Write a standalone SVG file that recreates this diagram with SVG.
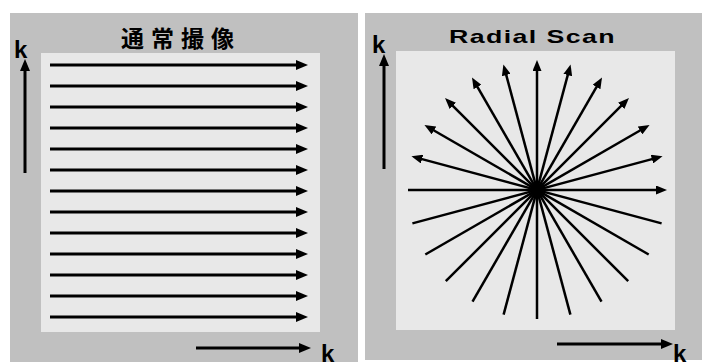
<svg xmlns="http://www.w3.org/2000/svg" width="702" height="362" viewBox="0 0 702 362">
  <style>
    .bg { fill: #c0c0c0; }
    .inner { fill: #e8e8e8; }
    .arr { stroke: #000; stroke-width: 3; fill: none; marker-end: url(#ah); }
    .ray { stroke: #000; stroke-width: 2.5; fill: none; marker-end: url(#ahs); }
    .axis { stroke: #000; stroke-width: 3; fill: none; marker-end: url(#ah); }
    .k { font-family: "Liberation Sans", Arial, sans-serif; font-weight: bold; font-size: 24px; fill: #000; }
    .title-jp { font-family: "Noto Sans CJK JP", "Noto Sans CJK SC", sans-serif; font-weight: bold; font-size: 23px; letter-spacing: 7px; fill: #000; }
    .title-en { font-family: "Liberation Sans", Arial, sans-serif; font-weight: bold; font-size: 19px; letter-spacing: 1px; fill: #000; }
  </style>
  <defs>
    <marker id="ah" markerUnits="userSpaceOnUse" markerWidth="12" markerHeight="10" viewBox="0 0 12 10" refX="1" refY="5" orient="auto">
      <path d="M0,0 L12,5 L0,10 z" fill="#000"/>
    </marker>
    <marker id="ahs" markerUnits="userSpaceOnUse" markerWidth="11" markerHeight="9" viewBox="0 0 11 9" refX="1" refY="4.5" orient="auto">
      <path d="M0,0 L11,4.5 L0,9 z" fill="#000"/>
    </marker>
  </defs>

  <g id="panel-left">
    <rect class="bg" x="10" y="13" width="348" height="349"/>
    <rect class="inner" x="41" y="53" width="279" height="279"/>
    <text class="title-jp" x="121" y="47">通常撮像</text>
    <text class="k" x="14" y="58">k</text>
    <text class="k" x="321" y="362">k</text>
  </g>

  <g id="panel-right">
    <rect class="bg" x="365" y="13" width="337" height="347"/>
    <rect class="inner" x="396" y="51" width="279" height="279"/>
    <text class="title-en" x="449" y="42.5" textLength="167" lengthAdjust="spacingAndGlyphs">Radial Scan</text>
    <text class="k" x="372" y="53">k</text>
    <text class="k" x="673" y="362">k</text>
  </g>

  <g id="connectors">
    <g id="left-lines">
      <line class="arr" x1="50" y1="65" x2="297" y2="65"/>
      <line class="arr" x1="50" y1="86" x2="297" y2="86"/>
      <line class="arr" x1="50" y1="107" x2="297" y2="107"/>
      <line class="arr" x1="50" y1="128" x2="297" y2="128"/>
      <line class="arr" x1="50" y1="149" x2="297" y2="149"/>
      <line class="arr" x1="50" y1="170" x2="297" y2="170"/>
      <line class="arr" x1="50" y1="191" x2="297" y2="191"/>
      <line class="arr" x1="50" y1="212" x2="297" y2="212"/>
      <line class="arr" x1="50" y1="233" x2="297" y2="233"/>
      <line class="arr" x1="50" y1="254" x2="297" y2="254"/>
      <line class="arr" x1="50" y1="275" x2="297" y2="275"/>
      <line class="arr" x1="50" y1="296" x2="297" y2="296"/>
      <line class="arr" x1="50" y1="317" x2="297" y2="317"/>
    </g>
    <g id="left-axes">
      <line class="axis" x1="25" y1="173" x2="25" y2="70"/>
      <line class="axis" x1="196" y1="348" x2="300" y2="348"/>
    </g>
    <g id="radial-lines">
      <line class="ray" x1="408" y1="190" x2="657" y2="190"/>
      <line class="ray" x1="412.4" y1="223.4" x2="652.9" y2="158.9"/>
      <line class="ray" x1="425.3" y1="254.5" x2="640.9" y2="130"/>
      <line class="ray" x1="445.8" y1="281.2" x2="621.9" y2="105.1"/>
      <line class="ray" x1="472.5" y1="301.7" x2="597" y2="86.1"/>
      <line class="ray" x1="503.6" y1="314.6" x2="568" y2="74.1"/>
      <line class="ray" x1="537" y1="319" x2="537" y2="70"/>
      <line class="ray" x1="570.4" y1="314.6" x2="506" y2="74.1"/>
      <line class="ray" x1="601.5" y1="301.7" x2="477" y2="86.1"/>
      <line class="ray" x1="628.2" y1="281.2" x2="452.1" y2="105.1"/>
      <line class="ray" x1="648.7" y1="254.5" x2="433.1" y2="130"/>
      <line class="ray" x1="661.6" y1="223.4" x2="421.1" y2="158.9"/>
    </g>
    <g id="right-axes">
      <line class="axis" x1="384" y1="169" x2="384" y2="65"/>
      <line class="axis" x1="557" y1="344" x2="662" y2="344"/>
    </g>
  </g>
</svg>
